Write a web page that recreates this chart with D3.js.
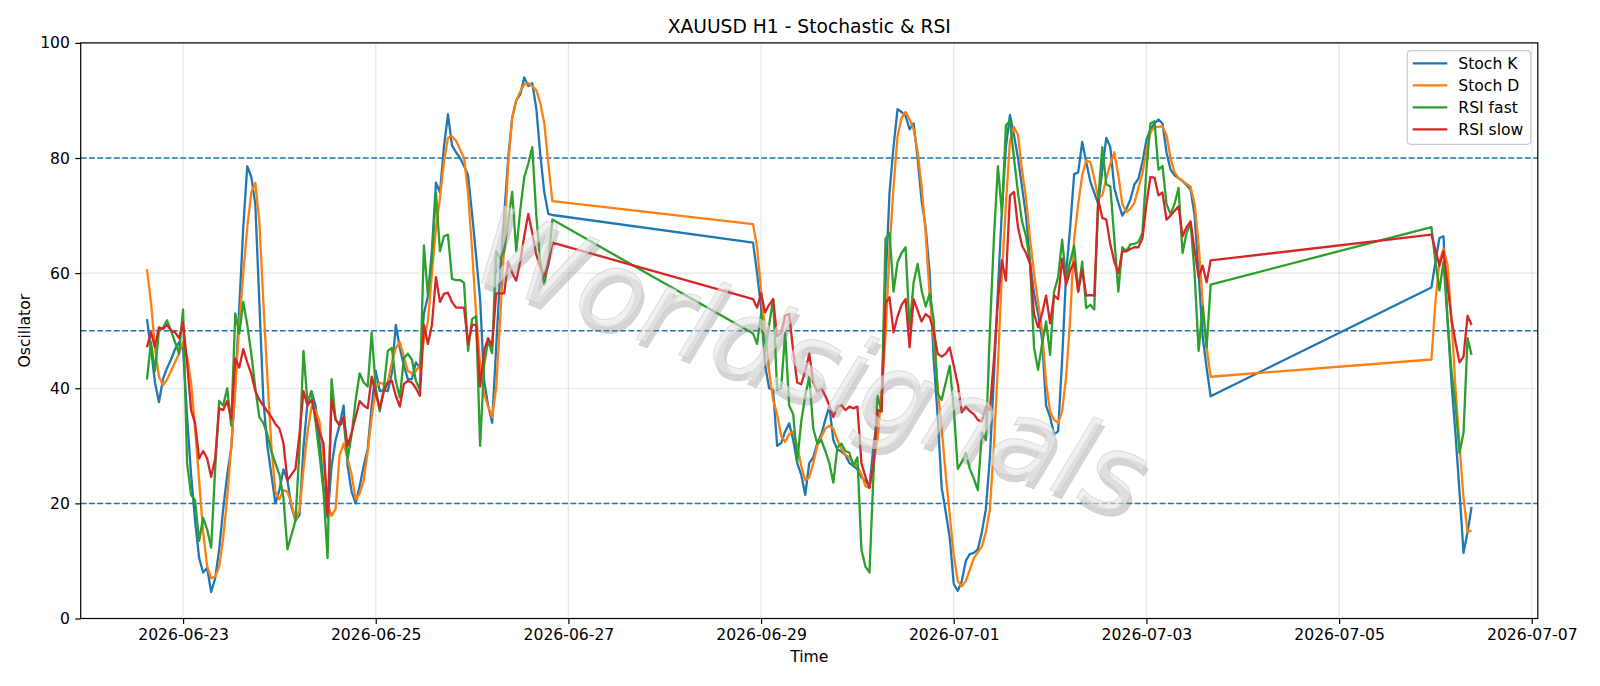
<!DOCTYPE html>
<html>
<head>
<meta charset="utf-8">
<script src="https://cdn.jsdelivr.net/npm/d3@7"></script>
<style>
  body { margin: 0; background: #fff; }
  svg { font-family: "DejaVu Sans", sans-serif; }
</style>
</head>
<body>
<div id="chart"></div>
<script>
////////////////////////////////////////////////////////////////////////
// Data: hourly bars, three trading sessions (UTC)

let sessionStart = ["2026-06-22T15:00:00Z", "2026-06-28T22:00:00Z", "2026-07-05T23:00:00Z"];
let sessionBars = [102, 115, 11];

let stochK = [
  // session 1
  52, 47, 41, 37.6, 41.6, 43.5, 45, 46.8, 48, 47,
  35, 25, 17, 10.5, 8, 8.8, 4.6, 7, 12, 19,
  25, 29.5, 40, 54, 68, 78.6, 76.7, 72, 55, 38,
  30, 25, 20, 22.3, 25.9, 24, 19.4, 17, 18, 29.7,
  37.5, 39.5, 37, 31, 23, 17.5, 26.5, 31, 33.6, 37,
  26.5, 22, 20, 23, 26.5, 29.5, 37, 43, 39.5, 39.7,
  39.5, 42.6, 51, 47, 44, 41.6, 41.6, 44.5, 43.6, 53,
  56, 64, 75.7, 74, 82, 87.6, 82.2, 81, 80, 78.6,
  77, 70.3, 63, 55.5, 41.3, 37, 34, 47, 60, 70,
  80, 87, 90, 91, 94, 92.5, 93, 88.6, 80.6, 74,
  70.3, 70.1,
  // session 2
  65.3, 60, 54, 44, 40, 39.7, 30, 30.5, 32.5, 33.9,
  31, 27, 25, 21.5, 27, 28, 30.5, 32, 34.5, 36.9,
  31, 29.4, 29, 28.4, 27, 26.5, 25.9, 24.5, 23.9, 23,
  30, 34.9, 37, 58, 74, 82, 88.5, 88, 87.3, 85,
  86, 80, 72.5, 68, 60, 45, 35, 22.7, 18.5, 14,
  6, 4.8, 6.5, 10, 11.2, 11.4, 12, 15, 19, 28,
  42, 57, 71, 82, 87.5, 84, 80, 75, 70, 62,
  56.5, 53, 48.4, 37, 35, 32, 32.5, 45, 60, 68,
  77.2, 77.5, 82.8, 79.3, 76, 74, 72, 78, 83.5, 81.9,
  74.8, 72.2, 70, 71.2, 72.8, 75.4, 76.4, 79.3, 83.1, 85,
  86, 86.7, 86, 81, 78, 77, 76.5, 76, 75.3, 74.5,
  70, 60, 49, 43.5, 38.6,
  // session 3
  57.5, 62, 66.1, 66.4, 52, 41, 32, 22, 11.4, 15, 19.4
];

let stochD = [
  60.7, 55, 47, 42, 40.5, 41.5, 43, 44.5, 46, 48,
  45.5, 41, 33, 24, 15, 9, 7, 7.3, 9, 14,
  21, 30, 40, 51, 60, 68, 74, 75.7, 69, 55,
  42, 30, 22, 20.7, 22.3, 22, 20, 17, 18.8, 25.9,
  32.3, 36.8, 36.2, 34.2, 27.8, 20, 17.8, 19, 28.4, 30.4,
  27.8, 25, 20.7, 21.7, 24, 29, 35, 40, 41, 40.7,
  41, 44.5, 47, 48, 45.5, 43, 42.6, 43, 44, 48.4,
  51.6, 60, 67.7, 73, 79.3, 83.5, 83.8, 83, 81.5, 80,
  74, 64, 53, 44, 39, 36.8, 35, 40, 52, 65,
  79, 87, 90, 91.5, 92.8, 93, 92.5, 91.8, 89.5, 86,
  79, 72.5,
  68.5, 64.5, 57, 50, 43, 38, 35.5, 31.7, 30.7, 32,
  32.5, 30, 26.5, 24, 24.5, 27, 30, 31.5, 33, 33.5,
  33, 31, 29.5, 28.4, 28, 27, 26.5, 25, 23, 22.7,
  27, 31, 39.4, 49, 64, 75, 83.8, 87, 88, 86.7,
  85, 81.2, 75, 67, 56, 49, 40, 33, 25, 18,
  11, 6.5, 5.6, 6.5, 8.5, 10.5, 11.5, 12.5, 15, 19,
  30, 44, 60, 72, 83, 85.4, 84, 78, 73, 66,
  60, 55, 50, 41, 36, 34.5, 34, 36, 42, 52,
  66, 72, 77, 79.6, 79.3, 76.5, 73, 73.5, 76.4, 79,
  81, 77, 72, 70.6, 71.2, 72.2, 74.8, 77.3, 81.2, 84.4,
  85.4, 85.4, 85.5, 84, 80, 77.5, 76.5, 76, 75.5, 75,
  72, 65, 55, 47, 42,
  45, 55, 62, 64.2, 61.5, 52, 40, 30, 21, 15, 15.3
];

let rsiFast = [
  41.5, 48, 43, 50, 50.5, 51.8, 50, 48, 46, 53.7,
  27, 21.5, 20.5, 13.5, 17.5, 15.5, 12.3, 26, 37.8, 37,
  40, 33.5, 53, 49.5, 55, 51, 46, 40, 35, 34,
  32, 29, 27, 25, 21, 12, 14.5, 17, 29.4, 46.5,
  37.5, 39.4, 34.2, 28.4, 22, 10.5, 41.6, 34.5, 33.5, 34.2,
  27.8, 32, 38, 42.6, 41, 40.3, 49.7, 40, 36, 40,
  46.5, 47, 41.3, 38.4, 45.2, 46, 45, 41.3, 39.7, 64.8,
  56, 62.5, 74, 63.8, 66.4, 66.7, 59, 58.8, 58.8, 58.3,
  46.5, 52, 52.5, 30, 44, 48.4, 46.1, 63.8, 62.5, 63.8,
  69, 74.1, 63.8, 71, 76.7, 79, 81.9, 70, 62, 58,
  61.9, 69.3,
  49.5, 47.7, 52.9, 46.5, 51, 55.5, 39.7, 40, 49.7, 37,
  35.5, 27.2, 34.2, 38.7, 42, 33, 30.4, 31, 29.1, 27,
  23.6, 29.7, 30.4, 29.1, 28.8, 26.5, 28, 12, 9, 8,
  25, 38.7, 36, 66, 67, 56.8, 61.9, 63.5, 64.5, 50.3,
  58.4, 61.6, 57, 54.2, 56.4, 52, 39, 38, 41, 43.9,
  36.5, 26, 27.2, 28.8, 26, 24.3, 22.3, 32.3, 31, 50,
  66, 78.6, 70.3, 85.7, 86.4, 80, 74, 69, 66.4, 61.9,
  47.1, 43.2, 47.7, 51.6, 45.8, 56.8, 59.3, 65.8, 59, 62,
  64.8, 56.8, 62, 53.9, 54.5, 53.7, 72.8, 81.9, 75.4, 75.1,
  66, 56.8, 64.5, 63.8, 65, 65.1, 65.4, 67, 78, 86,
  86.4, 78, 78.6, 72, 70.3, 72, 74.8, 63.5, 67, 68.7,
  60, 46.5, 54.2, 47.1, 58,
  68, 62, 57, 62, 52, 43, 37, 28.8, 32.3, 48.7, 45.8
];

let rsiSlow = [
  47.1, 49.7, 47.2, 50.6, 50.3, 51, 50, 49.7, 48.7, 51.5,
  44.5, 36.2, 33.9, 27.8, 29.1, 27.8, 24.6, 27.8, 36.5, 36.2,
  37.8, 34.6, 45.2, 43.6, 46.8, 44.5, 42.5, 39.5, 38, 37,
  36, 35, 33.8, 33, 30.5, 24, 25, 26, 32, 39.5,
  37, 38, 35, 32.3, 30.4, 18, 38, 34.6, 33.6, 35,
  30, 32.3, 35, 37.8, 37, 36.5, 42, 39, 36.5, 39.4,
  41, 41.3, 38.7, 36.8, 40.7, 41.3, 41, 40, 38.7, 51,
  47.7, 51, 59.3, 55, 56.4, 56.6, 55, 54, 54, 54,
  47.7, 51, 51, 40.3, 46.5, 48.7, 47.4, 56.5, 56.5, 56.5,
  62, 60, 58.7, 62, 66.4, 70.3, 67, 63.2, 61, 59.5,
  61.5, 65.3,
  55.5, 54, 56.5, 53.2, 54.5, 55.5, 49, 49.7, 52.6, 52.9,
  46.5, 41, 40.7, 43, 46, 41, 39.4, 40, 38.7, 37,
  35, 36.8, 37.1, 36.2, 36.8, 36.5, 36.8, 27, 24.6, 22.7,
  27, 36.2, 36, 54.8, 55.8, 49.7, 52.5, 54.5, 55.5, 47.1,
  55.5, 53.5, 51.6, 52.9, 52.3, 50, 46, 45.5, 46, 47.1,
  43.9, 40.7, 35.8, 36.8, 36, 35.5, 34.5, 34.2, 36.8, 36.2,
  45, 55, 62.2, 58.7, 73.5, 74.1, 68, 64.8, 63.5, 61.6,
  52.9, 50.6, 53, 56.1, 51.3, 56.1, 55.5, 62.5, 58, 60.5,
  61.9, 56.8, 60.6, 56.1, 56.2, 56.1, 72.8, 69.6, 69.3, 65,
  62, 60, 63.8, 63.8, 64.2, 64.5, 64.5, 66, 72, 76.7,
  76.6, 73.5, 74, 69.3, 70, 70.8, 71.6, 66.4, 68, 69,
  64, 59.3, 61.3, 58.4, 62.2,
  66.7, 64, 61.3, 63.8, 58, 52, 48, 44.5, 45.5, 52.6, 51
];

let seriesNames = ["Stoch K", "Stoch D", "RSI fast", "RSI slow"];
let seriesColors = ["#1f77b4", "#ff7f0e", "#2ca02c", "#d62728"];
let levels = [20, 50, 80];
let yTicks = [0, 20, 40, 60, 80, 100];
let xTickLabels = ["2026-06-23", "2026-06-25", "2026-06-27", "2026-06-29",
                   "2026-07-01", "2026-07-03", "2026-07-05", "2026-07-07"];

////////////////////////////////////////////////////////////////////////
// Timestamps for every bar

let times = [];
sessionStart.forEach((s, i) => {
  let t0 = new Date(s);
  for (let k = 0; k < sessionBars[i]; k++) times.push(d3.utcHour.offset(t0, k));
});

let allSeries = [stochK, stochD, rsiFast, rsiSlow];

////////////////////////////////////////////////////////////////////////
// Layout

let width = 1600, height = 686;
let plot = { left: 80.7, right: 1537.8, top: 42.9, bottom: 618.5 };

let svg = d3.select("#chart").append("svg")
  .attr("width", width)
  .attr("height", height);

let tMin = times[0], tMax = times[times.length - 1];
let pad = (tMax - tMin) * 0.05;
let xScale = d3.scaleUtc()
  .domain([new Date(+tMin - pad), new Date(+tMax + pad)])
  .range([plot.left, plot.right]);
let yScale = d3.scaleLinear().domain([0, 100]).range([plot.bottom, plot.top]);

let xTicks = xTickLabels.map(d => new Date(d + "T00:00:00Z"));

// grid
let grid = svg.append("g");
grid.selectAll(".vg").data(xTicks).enter().append("line")
  .attr("x1", d => xScale(d)).attr("x2", d => xScale(d))
  .attr("y1", plot.top).attr("y2", plot.bottom)
  .attr("stroke", "#b0b0b0").attr("stroke-opacity", 0.3).attr("stroke-width", 1.2);
grid.selectAll(".hg").data(yTicks).enter().append("line")
  .attr("x1", plot.left).attr("x2", plot.right)
  .attr("y1", d => yScale(d)).attr("y2", d => yScale(d))
  .attr("stroke", "#b0b0b0").attr("stroke-opacity", 0.3).attr("stroke-width", 1.2);

// overbought / oversold levels
svg.append("g").selectAll("line").data(levels).enter().append("line")
  .attr("x1", plot.left).attr("x2", plot.right)
  .attr("y1", d => yScale(d)).attr("y2", d => yScale(d))
  .attr("stroke", "#1f77b4").attr("stroke-width", 1.5)
  .attr("stroke-dasharray", "5.8,2.5");

// series lines
let line = d3.line()
  .x((d, i) => xScale(times[i]))
  .y(d => yScale(d));

svg.append("g").selectAll("path").data(allSeries).enter().append("path")
  .attr("d", d => line(d))
  .attr("fill", "none")
  .attr("stroke", (d, i) => seriesColors[i])
  .attr("stroke-width", 2.3)
  .attr("stroke-linejoin", "round");

// watermark (light text with a soft shadow, drawn over the plot)
let wm = svg.append("g")
  .attr("transform", "translate(798,398) rotate(20)")
  .attr("font-size", 110)
  .attr("font-style", "italic")
  .attr("text-anchor", "middle");
wm.append("text").attr("x", 4).attr("y", 5)
  .attr("fill", "#7a7a7a").attr("fill-opacity", 0.32)
  .text("Worldsignals");
wm.append("text")
  .attr("fill", "#e6e6e6").attr("fill-opacity", 0.6)
  .attr("stroke", "#c4c4c4").attr("stroke-opacity", 0.6).attr("stroke-width", 0.8)
  .text("Worldsignals");

// axes
let xAxis = svg.append("g")
  .attr("transform", "translate(0," + plot.bottom + ")")
  .call(d3.axisBottom(xScale).tickValues(xTicks).tickFormat((d, i) => xTickLabels[i])
    .tickSize(5.4).tickPadding(5.4));
let yAxis = svg.append("g")
  .attr("transform", "translate(" + plot.left + ",0)")
  .call(d3.axisLeft(yScale).tickValues(yTicks).tickSize(5.4).tickPadding(5.4));

[xAxis, yAxis].forEach(a => {
  a.select(".domain").remove();
  a.selectAll(".tick line").attr("stroke", "#000").attr("stroke-width", 1.2);
  a.selectAll(".tick text").attr("font-size", 15.6).attr("fill", "#000")
    .attr("font-family", "DejaVu Sans");
});

// frame
svg.append("rect")
  .attr("x", plot.left).attr("y", plot.top)
  .attr("width", plot.right - plot.left).attr("height", plot.bottom - plot.top)
  .attr("fill", "none").attr("stroke", "#000").attr("stroke-width", 1.2);

// titles
svg.append("text").attr("x", (plot.left + plot.right) / 2).attr("y", 33)
  .attr("text-anchor", "middle").attr("font-size", 18.7)
  .text("XAUUSD H1 - Stochastic & RSI");
svg.append("text").attr("x", (plot.left + plot.right) / 2).attr("y", 661.5)
  .attr("text-anchor", "middle").attr("font-size", 15.6)
  .text("Time");
svg.append("text").attr("transform", "translate(29.5," + ((plot.top + plot.bottom) / 2) + ") rotate(-90)")
  .attr("text-anchor", "middle").attr("font-size", 15.6)
  .text("Oscillator");

// legend
let legend = svg.append("g");
legend.append("rect")
  .attr("x", 1407.3).attr("y", 50.7).attr("width", 123.4).attr("height", 93.6)
  .attr("rx", 3.5)
  .attr("fill", "#fff").attr("fill-opacity", 0.8)
  .attr("stroke", "#cccccc").attr("stroke-width", 1.2);
let rows = legend.selectAll(".row").data(seriesNames).enter().append("g")
  .attr("transform", (d, i) => "translate(0," + (63.3 + i * 22) + ")");
rows.append("line")
  .attr("x1", 1412.7).attr("x2", 1447.3)
  .attr("stroke", (d, i) => seriesColors[i]).attr("stroke-width", 2.3);
rows.append("text")
  .attr("x", 1458.3).attr("dy", "0.36em").attr("font-size", 15.6)
  .text(d => d);
</script>
</body>
</html>
